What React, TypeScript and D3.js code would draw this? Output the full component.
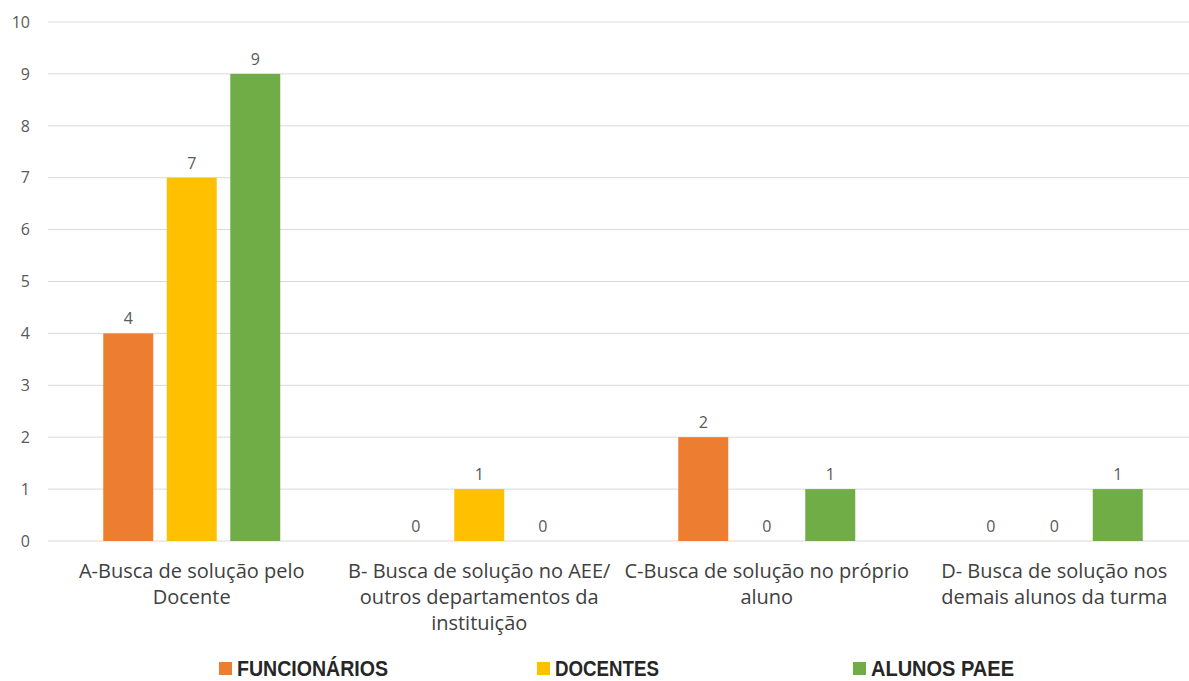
import React from "react";
import * as d3 from "d3";

const categories = ["A", "B", "C", "D"];
const categoryLabels: string[][] = [
  ["A-Busca de solução pelo", "Docente"],
  ["B- Busca de solução no AEE/", "outros departamentos da", "instituição"],
  ["C-Busca de solução no próprio", "aluno"],
  ["D- Busca de solução nos", "demais alunos da turma"],
];
const seriesNames = ["FUNCIONÁRIOS", "DOCENTES", "ALUNOS PAEE"];
const funcionarios = [4, 0, 2, 0];
const docentes = [7, 1, 0, 0];
const alunosPaee = [9, 0, 1, 1];
const seriesValues = [funcionarios, docentes, alunosPaee];
const seriesColors = ["#ED7D31", "#FFC000", "#70AD47"];
const yTicks = [0, 1, 2, 3, 4, 5, 6, 7, 8, 9, 10];

export default function App() {
  const W = 1189, H = 681;
  const x0 = d3.scaleBand<string>().domain(categories).range([48, 1198]).padding(0);
  const y = d3.scaleLinear().domain([0, 10]).range([541, 22]);
  const x1 = d3.scaleBand<string>().domain(seriesNames).range([-88.5, 88.5]).paddingInner(0.213).paddingOuter(0);
  const font = "'Open Sans', sans-serif";
  const legendX = [219, 537, 853];
  const legendLen = [151, 104, 143];
  return (
    <svg width={W} height={H} style={{ position: "absolute", left: 0, top: 0, background: "#fff" }}>
      <rect width={W} height={H} fill="#fff" />
      {yTicks.map((t) => (
        <g key={t}>
          <line x1={48} x2={1189} y1={y(t)} y2={y(t)} stroke="#d9d9d9" strokeWidth={1} />
          <text x={30} y={y(t)} dy="0.36em" textAnchor="end" fontSize={16} fill="#595959" fontFamily={font}>{t}</text>
        </g>
      ))}
      {categories.map((c, ci) => {
        const cx = (x0(c) ?? 0) + x0.bandwidth() / 2;
        return (
          <g key={c}>
            {seriesNames.map((s, si) => {
              const v = seriesValues[si][ci];
              const bx = cx + (x1(s) ?? 0);
              const bw = x1.bandwidth();
              return (
                <g key={s}>
                  {v > 0 && <rect x={bx} y={y(v)} width={bw} height={y(0) - y(v)} fill={seriesColors[si]} />}
                  <text x={bx + bw / 2} y={y(v) - 9} textAnchor="middle" fontSize={16} fill="#595959" fontFamily={font}>{v}</text>
                </g>
              );
            })}
            {categoryLabels[ci].map((line, li) => (
              <text key={li} x={cx} y={578 + li * 26} textAnchor="middle" fontSize={20} fill="#404040" fontFamily={font}>{line}</text>
            ))}
          </g>
        );
      })}
      {seriesNames.map((s, si) => (
        <g key={s}>
          <rect x={legendX[si]} y={662} width={13} height={13} fill={seriesColors[si]} />
          <text x={legendX[si] + 18} y={676} fontSize={22} fontWeight="bold" fill="#262626" fontFamily="'Liberation Sans', Arial, sans-serif" textLength={legendLen[si]} lengthAdjust="spacingAndGlyphs">{s}</text>
        </g>
      ))}
    </svg>
  );
}
